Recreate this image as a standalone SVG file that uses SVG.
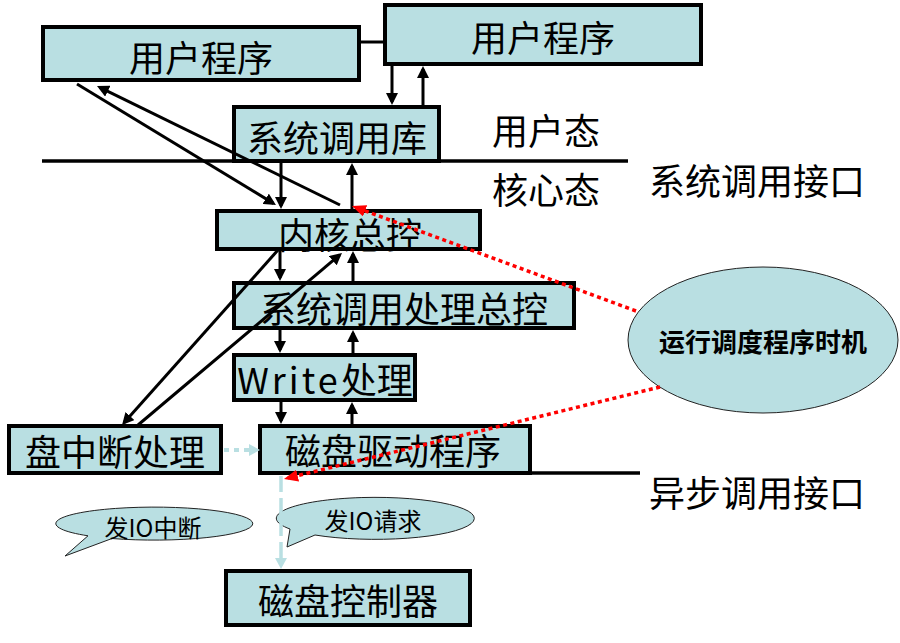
<svg xmlns="http://www.w3.org/2000/svg" width="900" height="643" viewBox="0 0 900 643">
<style>
  .box { fill: #b9dfe2; stroke: #000; stroke-width: 4; }
  .lbl { font-family: "Noto Sans CJK SC", "Noto Sans", sans-serif; font-size: 36px; fill: #000; text-anchor: middle; dominant-baseline: central; }
  .small { font-size: 24px; }
  .bold { font-size: 26px; font-weight: bold; }
  .bubble { fill: #b9dfe2; stroke: #222; stroke-width: 1; }
  .rule { stroke: #000; stroke-width: 3.5; fill: none; }
  .arr { stroke: #000; stroke-width: 3; fill: none; marker-end: url(#ah); }
  .red { stroke: #ff0000; stroke-width: 3.5; stroke-dasharray: 4 3.5; fill: none; marker-end: url(#ahr); }
  .lb { stroke: #b9dfe2; stroke-width: 4; fill: none; }
</style>
<defs>
  <marker id="ah" markerUnits="userSpaceOnUse" markerWidth="12" markerHeight="12" refX="9" refY="6" orient="auto">
    <path d="M0,0 L12,6 L0,12 z" fill="#000"/>
  </marker>
  <marker id="ahr" markerUnits="userSpaceOnUse" markerWidth="14" markerHeight="12" refX="10" refY="6" orient="auto">
    <path d="M0,0 L14,6 L0,12 z" fill="#ff0000"/>
  </marker>
  <marker id="ahb" markerUnits="userSpaceOnUse" markerWidth="11" markerHeight="12" refX="0" refY="6" orient="auto">
    <path d="M0,0 L11,6 L0,12 z" fill="#b9dfe2"/>
  </marker>
</defs>

<g id="rules">
  <line class="rule" x1="42" y1="161" x2="628" y2="161"/>
  <line class="rule" x1="530" y1="473" x2="640" y2="473"/>
</g>

<g id="user-program-1"><rect class="box" x="43" y="27" width="316" height="53"/><text class="lbl" x="201" y="56">用户程序</text></g>
<g id="user-program-2"><rect class="box" x="385" y="5" width="316" height="59"/><text class="lbl" x="543" y="36">用户程序</text></g>
<g id="syscall-lib"><rect class="box" x="234" y="107" width="205" height="54"/><text class="lbl" x="337" y="136">系统调用库</text></g>
<g id="kernel-ctrl"><rect class="box" x="217" y="211" width="263" height="38"/><text class="lbl" x="350" y="233">内核总控</text></g>
<g id="syscall-handler"><rect class="box" x="234" y="283" width="340" height="45"/><text class="lbl" x="404" y="307">系统调用处理总控</text></g>
<g id="write-handler"><rect class="box" x="234" y="355" width="181" height="45"/><text class="lbl" x="325" y="378"><tspan letter-spacing="3">Write</tspan>处理</text></g>
<g id="disk-irq"><rect class="box" x="9" y="426" width="212" height="47"/><text class="lbl" x="115" y="450">盘中断处理</text></g>
<g id="disk-driver"><rect class="box" x="260" y="426" width="270" height="47"/><text class="lbl" x="393" y="449">磁盘驱动程序</text></g>
<g id="disk-controller"><rect class="box" x="226" y="571" width="244" height="54"/><text class="lbl" x="348" y="599">磁盘控制器</text></g>
<g id="sched-timing"><ellipse class="bubble" cx="763" cy="340" rx="135" ry="73"/><text class="lbl bold" x="763" y="340">运行调度程序时机</text></g>
<g id="callout-irq"><path class="bubble" d="M88,535.8 L65,556 L112,538.5 A98.5 16.5 0 1 0 88,535.8 Z"/><text class="lbl small" x="153" y="526">发IO中断</text></g>
<g id="callout-req"><path class="bubble" d="M290,529 L287,547 L315,535 A99 21 0 1 0 290,529 Z"/><text class="lbl small" x="373" y="519">发IO请求</text></g>

<g id="labels">
  <text class="lbl" x="546" y="129">用户态</text>
  <text class="lbl" x="546" y="188">核心态</text>
  <text class="lbl" x="757" y="179">系统调用接口</text>
  <text class="lbl" x="757" y="491">异步调用接口</text>
</g>

<g id="connectors">
  <line class="rule" x1="359" y1="42" x2="385" y2="42" style="stroke-width:3"/>
  <line class="arr" x1="392" y1="66" x2="392" y2="102"/>
  <line class="arr" x1="423" y1="105" x2="423" y2="69"/>
  <line class="arr" x1="281" y1="163" x2="281" y2="206"/>
  <line class="arr" x1="352" y1="209" x2="352" y2="166"/>
  <line class="arr" x1="280" y1="251" x2="280" y2="278"/>
  <line class="arr" x1="353" y1="281" x2="353" y2="254"/>
  <line class="arr" x1="280" y1="330" x2="280" y2="350"/>
  <line class="arr" x1="353" y1="353" x2="353" y2="333"/>
  <line class="arr" x1="281" y1="402" x2="281" y2="421"/>
  <line class="arr" x1="352" y1="424" x2="352" y2="405"/>
  <line class="arr" x1="77" y1="84" x2="273.4" y2="203.4"/>
  <line class="arr" x1="340" y1="205" x2="99.7" y2="87.3"/>
  <line class="arr" x1="278" y1="250" x2="124" y2="422.8"/>
  <line class="arr" x1="138" y1="425" x2="339.7" y2="254.9"/>
  <line class="red" x1="636" y1="311" x2="355.7" y2="207.4"/>
  <line class="red" x1="660" y1="387" x2="287.9" y2="478"/>
  <line class="lb" x1="224" y1="450" x2="249" y2="450" stroke-dasharray="5 5" marker-end="url(#ahb)"/>
  <line class="lb" x1="281" y1="476" x2="281" y2="558" stroke-dasharray="16 6" style="stroke-width:3.5" marker-end="url(#ahb)"/>
</g>
</svg>
